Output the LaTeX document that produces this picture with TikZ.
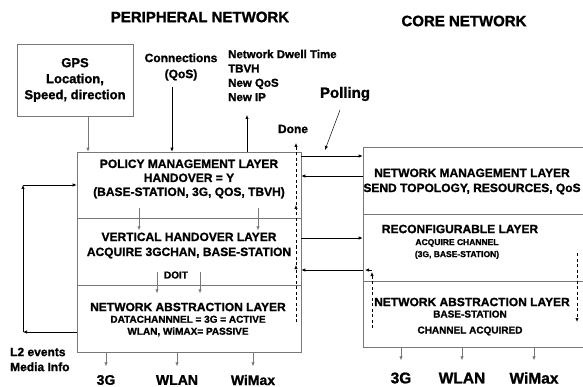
\documentclass[tikz,border=0pt]{standalone}
\usepackage{fontspec}
\setmainfont{Liberation Sans}[BoldFeatures={FakeBold=1.2}]
\usetikzlibrary{arrows.meta}
\definecolor{boxgray}{RGB}{120,120,120}
\newcommand\fsz[2]{\fontsize{#1}{#2}\selectfont\bfseries}

\begin{document}
\begin{tikzpicture}[x=1pt, y=-1pt, >={Latex[length=4pt,width=3.4pt]},
    txt/.style={inner sep=0pt, align=center},
    layer/.style={draw=boxgray, line width=0.6pt, minimum width=224pt, inner sep=0pt},
    rlayer/.style={layer, minimum width=223pt},
    arr/.style={->, line width=0.7pt},
    garr/.style={->, draw=boxgray, line width=0.7pt},
    dashln/.style={->, line width=0.7pt, dash pattern=on 3pt off 2.5pt},
    radio/.style={inner sep=0pt, font=\fsz{14}{16}}]
  \useasboundingbox[fill=white] (0,0) rectangle (583,387);

  \node[txt, font=\fsz{15}{18}] (peri) at (200,17) {PERIPHERAL NETWORK};
  \node[txt, font=\fsz{15}{18}] (core) at (464,21) {CORE NETWORK};

  % peripheral stack
  \node[layer, minimum height=66pt] (pml) at (189,185) {};
  \node[layer, minimum height=67pt] (vhl) at (189,251.5) {};
  \node[layer, minimum height=67pt] (nal) at (189,318.5) {};
  % core stack
  \node[rlayer, minimum height=67pt] (nml) at (474.5,180.5) {};
  \node[rlayer, minimum height=67pt] (rcl) at (474.5,247.5) {};
  \node[rlayer, minimum height=66pt] (rnal) at (474.5,314) {};

  \node[layer, minimum width=116pt, minimum height=72pt, align=center, font=\fsz{13}{16}] (gps) at (75,80) {GPS\\Location,\\Speed, direction};
  \node[txt, font=\fsz{12}{16}] (conn) at (181,67) {Connections\\(QoS)};
  \node[txt, font=\fsz{11.5}{14.3}, align=left, anchor=west] (dwell) at (228,75.5) {Network Dwell Time\\TBVH\\New QoS\\New IP};
  \node[txt, font=\fsz{15}{18}] (poll) at (345,94) {Polling};
  \node[txt, font=\fsz{12}{14}] (done) at (293,129) {Done};
  \node[txt, font=\fsz{12}{15}, align=left, anchor=west] (l2) at (10,359.5) {L2 events\\Media Info};

  \node[txt, font=\fsz{12}{14}] (pmltxt) at (189,179) {POLICY MANAGEMENT LAYER\\HANDOVER = Y\\(BASE-STATION, 3G, QOS, TBVH)};
  \node[txt, font=\fsz{12}{15}] (vhltxt) at (189,245.5) {VERTICAL HANDOVER LAYER\\ACQUIRE 3GCHAN, BASE-STATION};
  \node[txt, font=\fsz{10}{12}] (doit) at (176,275) {DOIT};
  \node[txt, font=\fsz{12}{14}] (naltxt) at (188,307) {NETWORK ABSTRACTION LAYER};
  \node[txt, font=\fsz{10}{12}] (nalsub) at (188,326) {DATACHANNNEL = 3G = ACTIVE\\WLAN, WiMAX= PASSIVE};
  \node[txt, font=\fsz{12}{15}] (nmltxt) at (472,181.5) {NETWORK MANAGEMENT LAYER\\SEND TOPOLOGY, RESOURCES, QoS};
  \node[txt, font=\fsz{12}{14}] (rcltxt) at (460,229) {RECONFIGURABLE LAYER};
  \node[txt, font=\fsz{8.5}{12}] (rclsub) at (457,249) {ACQUIRE CHANNEL\\(3G, BASE-STATION)};
  \node[txt, font=\fsz{12}{14}] (rnaltxt) at (472,302) {NETWORK ABSTRACTION LAYER};
  \node[txt, font=\fsz{10}{16}] (rnalsub) at (470,323) {BASE-STATION\\CHANNEL ACQUIRED};

  \coordinate (dwtip) at (247,115);
  \coordinate (pollto) at (325,150);
  \coordinate (dn) at (296,143);
  \coordinate (rd) at (372,328);
  \coordinate (rs) at (577,253);
  \coordinate (lpB) at (23,332);
  \coordinate (lpT) at (23,185);

  \draw[garr] ([xshift=13pt]gps.south) -- ([xshift=13pt]gps.south |- pml.north);
  \draw[arr] ([shift={(-9pt,-6pt)}]conn.south) -- ([xshift=-9pt]conn.south |- pml.north);
  \draw[arr] (pml.north -| dwtip) -- (dwtip);
  \draw[arr, line width=0.5pt] (poll) ++(-5,16) -- (pollto);
  \foreach \a/\b in {322/265, 265/205, 205/143}
    \draw[dashln] (dn |- 0,\a) -- (dn |- 0,\b);

  \foreach \y/\tip in {156/->, 176/<-, 238/->, 270/<-}
    \draw[arr, \tip] (pml.east |- 0,\y) -- (nml.west |- 0,\y);
  \draw[dashln] (rd) -- ++(0,-56);
  \draw[arr] (rd) ++(0,-58) -- ++(-7,0);
  \draw[dashln] (rs) -- ++(0,69);

  \foreach \x in {139,258}
    \draw[garr] (pml.south -| \x,0) ++(0,-10) -- ++(0,22);
  \foreach \x in {157,200}
    \draw[garr] (vhl.south -| \x,0) ++(0,-13) -- ++(0,21);

  \draw[arr] (nal.west |- lpB) -- (lpB);
  \draw[arr] (lpB) -- (lpT);
  \draw[arr] (lpT) -- (pml.west |- lpT);

  \foreach \x/\t/\n in {106/3G/ga, 177/WLAN/wa, 253/WiMax/xa} {
    \node[radio] (\n) at (\x,380) {\t};
    \draw[garr] (nal.south -| \n) -- ++(0,14);
  }
  \foreach \x/\t/\n in {401/3G/gb, 462/WLAN/wb, 534/WiMax/xb} {
    \node[radio, font=\fsz{15.5}{18}] (\n) at (\x,378) {\t};
    \draw[garr] (rnal.south -| \n) -- ++(0,13);
  }
\end{tikzpicture}
\end{document}
